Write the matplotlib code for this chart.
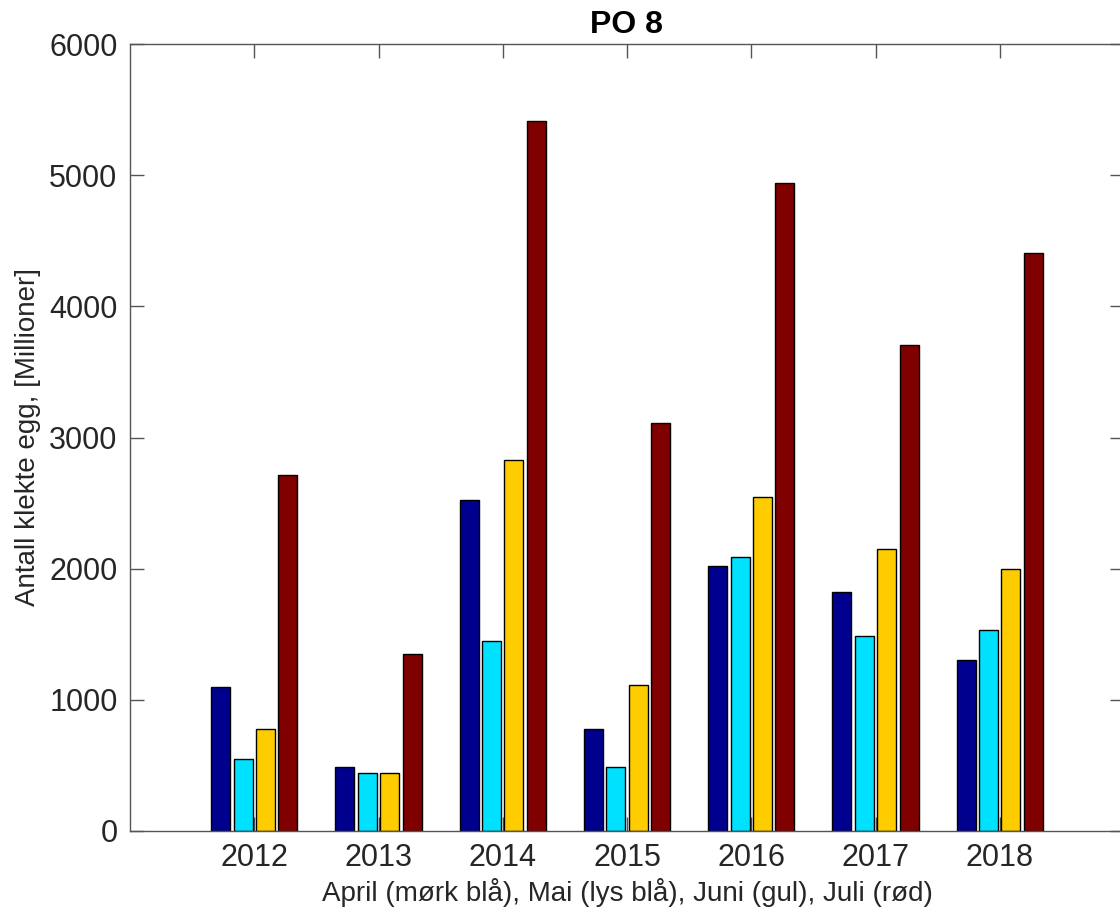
import matplotlib
matplotlib.use("Agg")
import matplotlib.pyplot as plt
import numpy as np

years = [2012, 2013, 2014, 2015, 2016, 2017, 2018]
april = [1100, 490, 2520, 775, 2020, 1825, 1305]
mai = [550, 440, 1445, 490, 2090, 1490, 1530]
juni = [775, 440, 2825, 1110, 2545, 2150, 1995]
juli = [2713, 1350, 5415, 3110, 4940, 3705, 4410]

series = [april, mai, juni, juli]
colors = ["#00008F", "#00E1FF", "#FFCC00", "#800000"]
offsets = [-0.27, -0.09, 0.09, 0.27]
width = 0.153

plt.rcParams['font.family'] = ['Liberation Sans', 'DejaVu Sans']

fig = plt.figure(figsize=(11.2, 9.18), dpi=100)
ax = fig.add_axes([130/1120, 87/918, 994/1120, 787/918])

x = np.array(years, dtype=float)
for vals, c, off in zip(series, colors, offsets):
    ax.bar(x + off, vals, width=width, color=c, edgecolor="black", linewidth=1.0, zorder=2)

ax.set_xlim(2011, 2019)
ax.set_ylim(0, 6000)
ax.set_xticks(years)
ax.set_xticklabels([str(y) for y in years])
ax.set_yticks([0, 1000, 2000, 3000, 4000, 5000, 6000])

for s in ax.spines.values():
    s.set_color("#555555")
    s.set_linewidth(1.0)

ax.tick_params(axis='both', direction='in', length=10, width=1, color="#555555",
               labelsize=22, labelcolor="#262626", top=True, right=True)
ax.tick_params(axis='y', pad=9)
ax.tick_params(axis='x', pad=9)

ax.set_title("PO 8", fontsize=23, fontweight='bold', color='black', pad=8)
ax.set_xlabel("April (mørk blå), Mai (lys blå), Juni (gul), Juli (rød)", fontsize=20, color="#262626", labelpad=3)
ax.set_ylabel("Antall klekte egg, [Millioner]", fontsize=20, color="#262626", labelpad=6)

fig.savefig("out.png", dpi=100)
